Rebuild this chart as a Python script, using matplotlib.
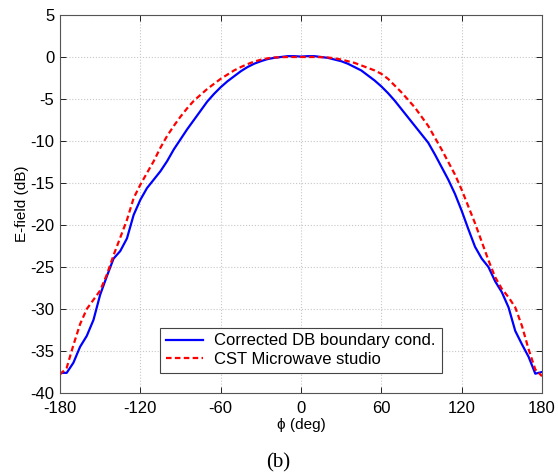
import matplotlib
matplotlib.use("Agg")
import matplotlib.pyplot as plt
import numpy as np

plt.rcParams['font.family'] = ['Liberation Sans', 'DejaVu Sans']
plt.rcParams['axes.unicode_minus'] = False

phi = list(range(-180, 181, 5))

db_corrected = [
    -37.6, -37.6, -36.4, -34.5, -33.2, -31.3, -28.3, -26.1, -24.0, -23.1,   # -180..-135
    -21.6, -18.8, -17.0, -15.6, -14.6, -13.6, -12.4, -11.0, -9.8, -8.6,     # -130..-85
    -7.5, -6.4, -5.3, -4.4, -3.6, -2.9, -2.3, -1.7, -1.2, -0.8,             # -80..-35
    -0.5, -0.25, -0.1, 0.0, 0.1, 0.1, 0.05, 0.1, 0.1, 0.0,                  # -30..15
    -0.1, -0.3, -0.5, -0.8, -1.2, -1.6, -2.2, -2.8, -3.5, -4.3,            # 20..65
    -5.2, -6.2, -7.2, -8.2, -9.2, -10.2, -11.6, -13.1, -14.6, -16.3,       # 70..115
    -18.3, -20.5, -22.6, -24.0, -25.0, -26.7, -28.0, -29.8, -32.6, -34.2,  # 120..165
    -35.7, -37.7, -37.5                                                     # 170..180
]

db_cst = [
    -37.8, -37.0, -34.3, -31.8, -30.0, -28.9, -27.8, -25.9, -23.6, -21.5,  # -180..-135
    -19.4, -16.8, -15.2, -13.8, -12.4, -10.8, -9.4, -8.2, -7.1, -6.1,      # -130..-85
    -5.2, -4.5, -3.8, -3.2, -2.6, -2.1, -1.6, -1.2, -0.85, -0.55,          # -80..-35
    -0.32, -0.16, -0.06, -0.02, 0.0, 0.0, 0.0, 0.0, 0.0, -0.02,            # -30..15
    -0.06, -0.15, -0.3, -0.5, -0.7, -1.0, -1.3, -1.6, -2.0, -2.6,          # 20..65
    -3.4, -4.2, -5.1, -6.0, -7.1, -8.2, -9.6, -11.0, -12.5, -14.0,         # 70..115
    -15.8, -17.8, -19.8, -22.0, -24.2, -26.2, -27.6, -28.6, -29.8, -32.0,  # 120..165
    -34.8, -37.2, -38.0                                                     # 170..180
]

xticks = [-180, -120, -60, 0, 60, 120, 180]
yticks = list(range(-40, 6, 5))

fig = plt.figure(figsize=(5.58, 4.75), dpi=100)
ax = fig.add_axes([60/558, 1 - 393/475, 482/558, 378/475])

ax.plot(phi, db_corrected, color=(0, 0, 1), lw=1.6, label='Corrected DB boundary cond.')
ax.plot(phi, db_cst, color=(1, 0, 0), lw=1.6, ls=(0, (2.5, 1.5)), label='CST Microwave studio')

ax.set_xlim(-180, 180)
ax.set_ylim(-40, 5)
ax.set_xticks(xticks)
ax.set_yticks(yticks)
ax.tick_params(direction='in', top=True, right=True, labelsize=12, length=4, width=0.6,
               colors='black', pad=4)
ax.tick_params(axis='x', pad=6)
for s in ax.spines.values():
    s.set_color('#555555')
    s.set_linewidth(0.8)
ax.grid(True, ls=':', color='#c8c8c8', lw=0.8)

ax.set_xlabel('ϕ (deg)', fontsize=11, labelpad=1)
ax.set_ylabel('E-field (dB)', fontsize=11, labelpad=1)

leg = ax.legend(loc='lower center', bbox_to_anchor=(0.5, 0.032), fontsize=12,
                frameon=True, fancybox=False, edgecolor='#444444', framealpha=1,
                handlelength=2.2, borderpad=0.35, labelspacing=0.2, handletextpad=0.7)
leg.get_frame().set_linewidth(0.8)

fig.text(278/558, 1 - 463/475, '(b)', ha='center', va='center',
         fontsize=15, family='Liberation Serif')

fig.savefig('out.png', dpi=100)
